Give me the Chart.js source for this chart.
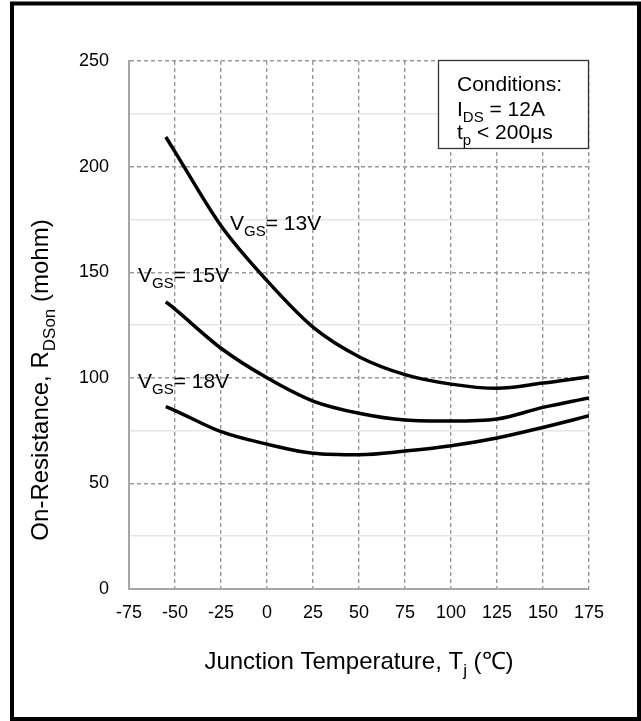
<!DOCTYPE html>
<html>
<head>
<meta charset="utf-8">
<script src="https://cdn.jsdelivr.net/npm/chart.js@4.4.1/dist/chart.umd.min.js"></script>
<style>
html, body { margin: 0; padding: 0; background: #fff; }
#wrap { width: 641px; height: 721px; }
</style>
</head>
<body>
<div id="wrap"><canvas id="myChart" width="641" height="721"></canvas></div>
<script>
// junction temperature (degC)
const temps = [-55, -50, -25, 0, 25, 50, 75, 100, 125, 150, 175];
// on-resistance (mohm) per gate voltage
const rds13V = [214, 207, 172, 146, 124, 110, 101.5, 97, 95, 97.5, 100.5];
const rds15V = [136, 132.5, 114, 100, 89, 83.2, 80, 79.5, 80.5, 86, 90.5];
const rds18V = [86.3, 84.5, 74.5, 68.6, 64.3, 63.6, 65.3, 67.8, 71.5, 76.5, 82];

const xTicks = [-75, -50, -25, 0, 25, 50, 75, 100, 125, 150, 175];
const yTicks = [0, 50, 100, 150, 200, 250];

const FONT = '"Liberation Sans", Arial, sans-serif';

function toPoints(xs, ys)
{
    return xs.map((x, i) => ({ x: x, y: ys[i] }));
}

function curve(data)
{
    return {
        data: toPoints(temps, data),
        borderColor: '#000',
        borderWidth: 3.5,
        pointRadius: 0,
        showLine: true,
        fill: false,
        cubicInterpolationMode: 'monotone'
    };
}

// draws text made of normal / subscript parts, starting at x on baseline y
function drawParts(ctx, parts, x, y, size)
{
    let cx = x;
    parts.forEach(p => {
        const sub = p[1] === 's';
        const s = sub ? Math.round(size * 0.7) : size;
        ctx.font = s + 'px ' + FONT;
        ctx.fillText(p[0], cx, sub ? y + size * 0.28 : y);
        cx += ctx.measureText(p[0]).width;
    });
    return cx - x;
}

function partsWidth(ctx, parts, size)
{
    let w = 0;
    parts.forEach(p => {
        const s = p[1] === 's' ? Math.round(size * 0.7) : size;
        ctx.font = s + 'px ' + FONT;
        w += ctx.measureText(p[0]).width;
    });
    return w;
}

const annotations = {
    id: 'annotations',
    afterDraw(chart)
    {
        const ctx = chart.ctx;
        const xs = chart.scales.x;
        ctx.save();
        ctx.fillStyle = '#000';
        ctx.textBaseline = 'alphabetic';
        ctx.textAlign = 'left';

        // curve labels
        drawParts(ctx, [['V', 'n'], ['GS', 's'], ['= 13V', 'n']], 230, 230, 21);
        drawParts(ctx, [['V', 'n'], ['GS', 's'], ['= 15V', 'n']], 138, 282, 21);
        drawParts(ctx, [['V', 'n'], ['GS', 's'], ['= 18V', 'n']], 138, 388, 21);

        // conditions box
        ctx.fillStyle = '#fff';
        ctx.fillRect(438, 60, 150, 88);
        ctx.strokeStyle = '#333';
        ctx.lineWidth = 1.3;
        ctx.strokeRect(438.5, 60.5, 150, 88);
        ctx.fillStyle = '#000';
        drawParts(ctx, [['Conditions:', 'n']], 457, 91, 21);
        drawParts(ctx, [['I', 'n'], ['DS', 's'], [' = 12A', 'n']], 457, 116, 21);
        drawParts(ctx, [['t', 'n'], ['p', 's'], [' < 200\u03bcs', 'n']], 457, 139, 21);

        // x axis title
        const xt = [['Junction Temperature, T', 'n'], ['j', 's'], [' (\u2103)', 'n']];
        const xw = partsWidth(ctx, xt, 24);
        drawParts(ctx, xt, (xs.left + xs.right) / 2 - xw / 2, 669, 24);

        // y axis title
        const yt = [['On-Resistance, R', 'n'], ['DSon', 's'], [' (mohm)', 'n']];
        const yw = partsWidth(ctx, yt, 24);
        ctx.translate(48, 380);
        ctx.rotate(-Math.PI / 2);
        drawParts(ctx, yt, -yw / 2, 0, 24);
        ctx.restore();

        // outer frame
        ctx.save();
        ctx.strokeStyle = '#000';
        ctx.lineWidth = 4;
        ctx.beginPath();
        ctx.moveTo(12, 721);
        ctx.lineTo(12, 3.5);
        ctx.lineTo(639, 3.5);
        ctx.lineTo(639, 719);
        ctx.lineTo(12, 719);
        ctx.stroke();
        ctx.restore();
    }
};

const config = {
    type: 'scatter',
    data: {
        datasets: [curve(rds13V), curve(rds15V), curve(rds18V)]
    },
    options: {
        responsive: false,
        animation: false,
        layout: {
            padding: { top: 61, right: 52, bottom: 0, left: 0 }
        },
        plugins: {
            legend: { display: false },
            tooltip: { enabled: false }
        },
        scales: {
            x: {
                type: 'linear',
                min: -75,
                max: 175,
                afterBuildTicks: (scale) => { scale.ticks = xTicks.map(v => ({ value: v })); },
                afterFit: (scale) => { scale.height = 132; },
                ticks: {
                    padding: 13,
                    color: '#000',
                    font: { family: FONT, size: 18 },
                    maxRotation: 0,
                    autoSkip: false
                },
                grid: {
                    color: '#999',
                    lineWidth: 1.4,
                    drawTicks: false
                },
                border: {
                    color: '#a6a6a6',
                    width: 2,
                    dash: (ctx) => (ctx.tick ? [4, 3] : [])
                }
            },
            y: {
                type: 'linear',
                min: 0,
                max: 250,
                ticks: {
                    stepSize: 25,
                    padding: 20,
                    color: '#000',
                    font: { family: FONT, size: 18 },
                    callback: (v) => (yTicks.includes(v) ? v : '')
                },
                afterFit: (scale) => { scale.width = 129; },
                grid: {
                    color: (ctx) => (ctx.tick && ctx.tick.value % 50 === 0 ? '#999' : '#e6e6e6'),
                    lineWidth: (ctx) => (ctx.tick && ctx.tick.value % 50 === 0 ? 1.4 : 1.5),
                    drawTicks: false
                },
                border: {
                    color: '#a6a6a6',
                    width: 2,
                    dash: (ctx) => (ctx.tick && ctx.tick.value % 50 === 0 ? [4, 3] : [])
                }
            }
        }
    },
    plugins: [annotations]
};

const chart = new Chart(document.getElementById('myChart'), config);
</script>
</body>
</html>
